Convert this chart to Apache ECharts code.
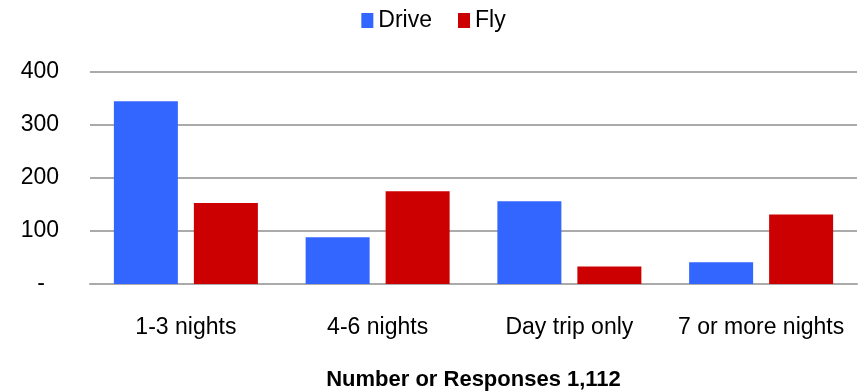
<!DOCTYPE html>
<html>
<head>
<meta charset="utf-8">
<script src="https://cdn.jsdelivr.net/npm/echarts@6/dist/echarts.min.js"></script>
<style>html,body{margin:0;padding:0;background:#fff}#c{width:867px;height:392px}</style>
</head>
<body>
<div id="c"></div>
<script>
const categories = ['1-3 nights', '4-6 nights', 'Day trip only', '7 or more nights'];
const driveValues = [345, 88, 156, 41];
const flyValues = [153, 175, 33, 131];
const yTicks = [0, 100, 200, 300, 400];
const seriesNames = ['Drive', 'Fly'];
const xTitle = 'Number or Responses 1,112';

const FONT = 'Liberation Sans, Arial, sans-serif';
const chart = echarts.init(document.getElementById('c'));
chart.setOption({
  animation: false,
  textStyle: { fontFamily: FONT },
  legend: {
    top: 4, left: 'center', icon: 'rect', itemWidth: 12, itemHeight: 15, itemGap: 26,
    textStyle: { fontSize: 23, color: '#000', fontFamily: FONT },
    data: seriesNames
  },
  grid: { left: 90, right: 10, top: 72, bottom: 108, outerBoundsMode: 'none', containLabel: false },
  xAxis: {
    type: 'category', data: categories,
    axisLine: { show: true, lineStyle: { color: '#aaa', width: 2 } },
    axisTick: { show: false },
    axisLabel: { color: '#000', fontSize: 23, margin: 32, interval: 0 },
    name: xTitle, nameLocation: 'middle', nameGap: 85,
    nameTextStyle: { fontSize: 22, fontWeight: 'bold', color: '#000' }
  },
  yAxis: {
    type: 'value', min: yTicks[0], max: yTicks[yTicks.length - 1], interval: 100,
    axisLine: { show: false }, axisTick: { show: false },
    splitLine: { lineStyle: { color: '#aaa', width: 2 } },
    axisLabel: {
      color: '#000', fontSize: 23, margin: 31,
      formatter: v => v === 0 ? '{z|-}' : String(v),
      rich: { z: { fontSize: 23, color: '#000', padding: [0, 14, 0, 0] } }
    }
  },
  series: [
    { name: seriesNames[0], type: 'bar', data: driveValues, barWidth: 64, barGap: '25%', itemStyle: { color: '#3366FF' } },
    { name: seriesNames[1], type: 'bar', data: flyValues, barWidth: 64, barGap: '25%', itemStyle: { color: '#CC0000' } }
  ]
});
</script>
</body>
</html>
